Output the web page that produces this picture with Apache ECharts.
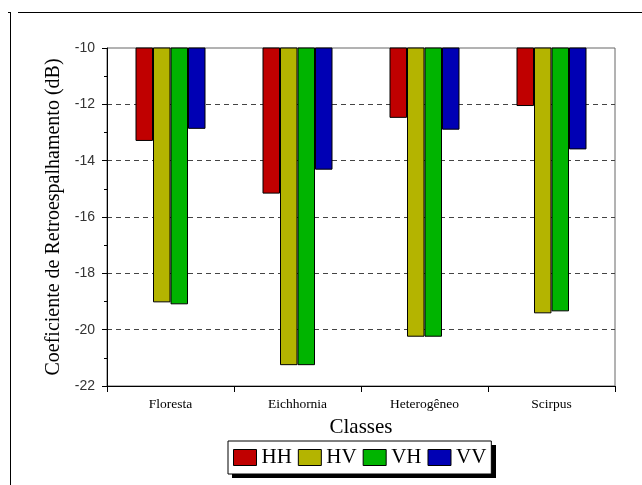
<!DOCTYPE html>
<html><head><meta charset="utf-8">
<script src="https://cdn.jsdelivr.net/npm/echarts@6/dist/echarts.min.js"></script>
<style>html,body{margin:0;padding:0;background:#fff}#c{width:642px;height:485px}</style>
</head><body><div id="c"></div>
<script>
const categories = ['Floresta', 'Eichhornia', 'Heterogêneo', 'Scirpus'];
const HH = [-13.3, -15.17, -12.48, -12.06];
const HV = [-19.03, -21.26, -20.25, -19.42];
const VH = [-19.1, -21.26, -20.25, -19.35];
const VV = [-12.87, -14.32, -12.9, -13.6];
const seriesNames = ['HH', 'HV', 'VH', 'VV'];
const seriesData = [HH, HV, VH, VV];
const colors = ['#c00000', '#b4b400', '#00b400', '#0000b4'];

const chart = echarts.init(document.getElementById('c'), null, {renderer: 'canvas'});
const serif = '"Liberation Serif", "Times New Roman", serif';
chart.setOption({
  animation: false,
  backgroundColor: '#fff',
  grid: {left: 107, right: 27, top: 48, bottom: 99, show: true, borderColor: '#666', borderWidth: 1, backgroundColor: 'transparent'},
  legend: {
    data: seriesNames,
    left: 228, top: 441,
    itemWidth: 23, itemHeight: 16, itemGap: 6,
    padding: [6, 5],
    backgroundColor: '#fff', borderColor: '#000', borderWidth: 1,
    textStyle: {fontFamily: serif, fontSize: 21, color: '#000'},
    icon: 'rect',
    itemStyle: {borderColor: '#000', borderWidth: 1},
    z: 10
  },
  xAxis: {
    type: 'category', data: categories, position: 'bottom',
    name: 'Classes', nameLocation: 'middle', nameGap: 31,
    nameTextStyle: {fontFamily: serif, fontSize: 21, color: '#000'},
    axisLine: {show: true, onZero: false, lineStyle: {color: '#000', width: 1}},
    axisTick: {show: true, length: 6, alignWithLabel: false, lineStyle: {color: '#000'}},
    axisLabel: {fontFamily: serif, fontSize: 13.5, color: '#000', margin: 11},
    splitLine: {show: false}
  },
  yAxis: {
    type: 'value', min: -22, max: -10, interval: 2,
    name: 'Coeficiente de Retroespalhamento (dB)', nameLocation: 'middle', nameGap: 39,
    nameTextStyle: {fontFamily: serif, fontSize: 20, color: '#000'},
    axisLine: {show: true, lineStyle: {color: '#000', width: 1}},
    axisTick: {show: true, length: 5, lineStyle: {color: '#000'}},
    minorTick: {show: true, splitNumber: 2, length: 3, lineStyle: {color: '#000'}},
    axisLabel: {fontFamily: '"Liberation Sans", Arial, sans-serif', fontSize: 14, color: '#333', margin: 12},
    splitLine: {show: true, showMinLine: false, showMaxLine: false, lineStyle: {color: '#444', type: [5, 4], width: 1}}
  },
  series: seriesNames.map((n, i) => ({
    name: n, type: 'bar', data: seriesData[i],
    barWidth: 17.5, barGap: '0%',
    itemStyle: {color: colors[i], borderColor: '#000', borderWidth: 1}
  })),
  graphic: [
    {type: 'line', shape: {x1: 18, y1: 12.5, x2: 642, y2: 12.5}, style: {stroke: '#000', lineWidth: 1}},
    {type: 'line', shape: {x1: 10.5, y1: 12, x2: 10.5, y2: 485}, style: {stroke: '#000', lineWidth: 1}},
    {type: 'line', shape: {x1: 8, y1: 12.5, x2: 11, y2: 12.5}, style: {stroke: '#000', lineWidth: 1}},
    {type: 'rect', z: 1, shape: {x: 232, y: 445, width: 264, height: 33}, style: {fill: '#000'}}
  ]
});
</script></body></html>
